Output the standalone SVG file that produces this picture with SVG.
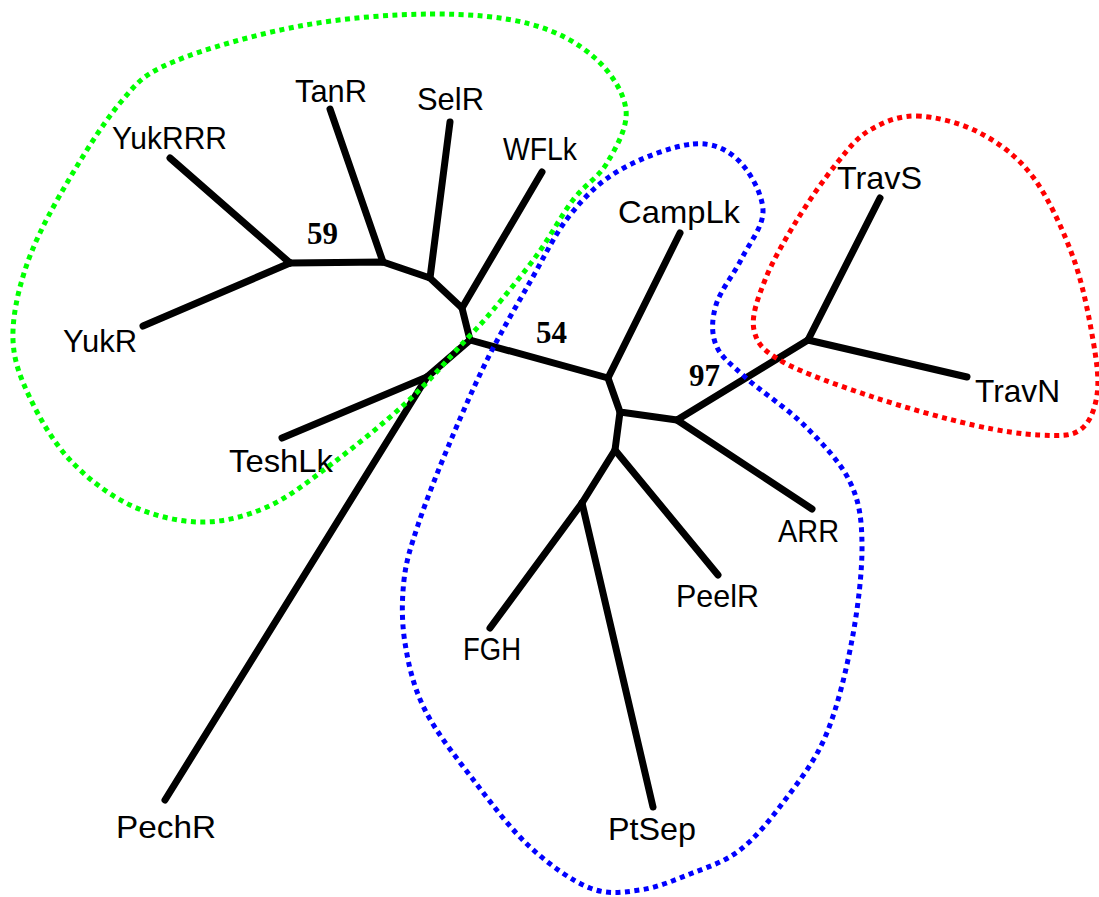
<svg xmlns="http://www.w3.org/2000/svg" width="1099" height="897" viewBox="0 0 1099 897">
  <style>
    .branch { stroke: #000; stroke-width: 7; stroke-linecap: round; stroke-linejoin: round; fill: none; }
    .taxon { font-family: "Liberation Sans", Arial, sans-serif; font-size: 32px; fill: #000; }
    .support { font-family: "Liberation Serif", "Times New Roman", serif; font-weight: bold; font-size: 31px; fill: #000; }
    .cluster { fill: none; stroke-width: 5; stroke-dasharray: 5 4.5; }
  </style>
  <rect width="1099" height="897" fill="#fff"/>

  <!-- tree branches -->
  <g id="connectors">
    <!-- western clade -->
    <polyline class="branch" points="470,340 462,308 430,278 383,262 290,263"/>
    <line class="branch" x1="290" y1="263" x2="170" y2="158"/>
    <line class="branch" x1="290" y1="263" x2="143" y2="326"/>
    <line class="branch" x1="383" y1="262" x2="330" y2="109"/>
    <line class="branch" x1="430" y1="278" x2="450" y2="122"/>
    <line class="branch" x1="462" y1="308" x2="542" y2="172"/>
    <line class="branch" x1="470" y1="340" x2="427" y2="377"/>
    <line class="branch" x1="427" y1="377" x2="282" y2="438"/>
    <line class="branch" x1="427" y1="377" x2="165" y2="800"/>
    <!-- eastern clade -->
    <polyline class="branch" points="470,340 608,378 620,412 677,420 808,340"/>
    <line class="branch" x1="608" y1="378" x2="680" y2="233"/>
    <line class="branch" x1="808" y1="340" x2="880" y2="198"/>
    <line class="branch" x1="808" y1="340" x2="967" y2="377"/>
    <line class="branch" x1="677" y1="420" x2="812" y2="509"/>
    <polyline class="branch" points="620,412 615,450 582,503"/>
    <line class="branch" x1="615" y1="450" x2="718" y2="575"/>
    <line class="branch" x1="582" y1="503" x2="490" y2="628"/>
    <line class="branch" x1="582" y1="503" x2="653" y2="807"/>
  </g>

  <!-- bootstrap support values -->
  <g id="support-values">
    <text class="support" x="307" y="244">59</text>
    <text class="support" x="536" y="343">54</text>
    <text class="support" x="689" y="386">97</text>
  </g>

  <!-- taxa -->
  <g id="YukRRR"><text class="taxon" x="112" y="149" textLength="115" lengthAdjust="spacingAndGlyphs">YukRRR</text></g>
  <g id="TanR"><text class="taxon" x="295" y="102" textLength="72" lengthAdjust="spacingAndGlyphs">TanR</text></g>
  <g id="SelR"><text class="taxon" x="417" y="110" textLength="67" lengthAdjust="spacingAndGlyphs">SelR</text></g>
  <g id="WFLk"><text class="taxon" x="503" y="160" textLength="74" lengthAdjust="spacingAndGlyphs">WFLk</text></g>
  <g id="CampLk"><text class="taxon" x="618" y="223" textLength="122" lengthAdjust="spacingAndGlyphs">CampLk</text></g>
  <g id="TravS"><text class="taxon" x="837" y="189" textLength="85" lengthAdjust="spacingAndGlyphs">TravS</text></g>
  <g id="TravN"><text class="taxon" x="975" y="402" textLength="85" lengthAdjust="spacingAndGlyphs">TravN</text></g>
  <g id="YukR"><text class="taxon" x="63" y="352" textLength="74" lengthAdjust="spacingAndGlyphs">YukR</text></g>
  <g id="TeshLk"><text class="taxon" x="229" y="472" textLength="104" lengthAdjust="spacingAndGlyphs">TeshLk</text></g>
  <g id="ARR"><text class="taxon" x="778" y="542" textLength="61" lengthAdjust="spacingAndGlyphs">ARR</text></g>
  <g id="PeelR"><text class="taxon" x="676" y="607" textLength="83" lengthAdjust="spacingAndGlyphs">PeelR</text></g>
  <g id="FGH"><text class="taxon" x="463" y="660" textLength="58" lengthAdjust="spacingAndGlyphs">FGH</text></g>
  <g id="PtSep"><text class="taxon" x="608" y="840" textLength="88" lengthAdjust="spacingAndGlyphs">PtSep</text></g>
  <g id="PechR"><text class="taxon" x="116" y="838" textLength="100" lengthAdjust="spacingAndGlyphs">PechR</text></g>

  <!-- dotted cluster outlines -->
  <g id="clusters">
    <path id="cluster-green" class="cluster" stroke="#00ff00" d="M430,14 C468.3,13.7 502.5,16.7 530,24 S579,43.7 595,58 S624,92.5 626,110 S615.8,148 607,163 S584.7,184.7 573,200 S550.3,236.7 537,255 S505.3,295.3 493,310 S477.3,327.7 463,343 S428.7,382 407,402 S356.3,445.5 333,463 S289.2,497.2 267,507 S222.8,522.3 200,522 S151.7,515.3 130,505 S86.7,477.8 70,460 S39.5,418 30,398 S13.8,361.3 13,340 S17.2,294.2 25,270 S44.2,222.8 60,195 S101.2,125.2 120,103 S143,74.8 173,62 S257.2,34 300,26 S391.7,14.3 430,14 Z"/>
    <path id="cluster-blue" class="cluster" stroke="#0000ff" d="M693,144 C712.7,142.3 726.3,149 738,160 S762.3,193.7 763,210 S749.8,242.2 742,258 S720.3,290.5 716,305 S711.2,333 716,345 S730.2,363.5 745,377 S787.5,408.5 805,426 S840.5,462.2 850,482 S861.7,518.7 862,545 S858,608.3 852,640 S837.2,708.3 826,735 S799.3,780.8 785,800 S755.8,837.7 740,850 S706.7,867.3 690,874 S656.7,887.7 640,890 S608.3,895.2 590,888 S549.2,864.7 530,847 S492.5,804.8 475,782 S436.7,733.2 425,710 S408.5,664.7 405,643 S401.8,599.7 404,580 S410.7,547.2 418,525 S436.5,474.5 448,447 S473.3,387.5 487,360 S516.2,306.2 530,282 S555,233.7 570,215 S599.5,181.8 620,170 S673.3,145.7 693,144 Z"/>
    <path id="cluster-red" class="cluster" stroke="#ff0000" d="M917,116 C935.3,116.5 960.7,122.8 980,133 S1017.5,156.3 1033,177 S1063,229.8 1073,257 S1089,317 1093,340 S1099.2,380 1097,395 S1089.5,423.3 1080,430 S1057.8,435.8 1040,435 S1000.8,431.3 973,425 S904.7,407.5 873,397 S802.8,373.2 783,362 S757,343.7 754,330 S757.8,298.3 765,280 S785,239.5 797,220 S824.8,178 837,163 S856.7,137.8 870,130 S898.7,115.5 917,116 Z"/>
  </g>
</svg>
